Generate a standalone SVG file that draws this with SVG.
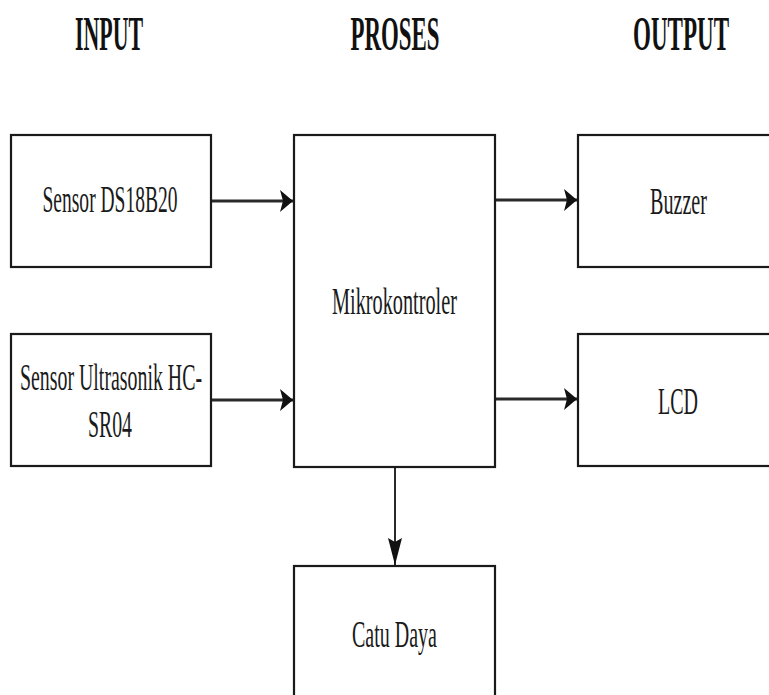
<svg xmlns="http://www.w3.org/2000/svg" width="769" height="695" viewBox="0 0 769 695">
<style>
.box{fill:#fff;stroke:#1a1a1a;stroke-width:2.2}
.t{font-family:"Liberation Serif","Times New Roman",serif;font-size:37px;fill:#1a1a1a;text-anchor:middle}
.h{font-family:"Liberation Serif","Times New Roman",serif;font-size:48px;font-weight:bold;fill:#111;text-anchor:middle}
.ln{stroke:#2a2a2a;stroke-width:3;fill:none}
.lnv{stroke:#2a2a2a;stroke-width:2;fill:none}
</style>
<defs>
<marker id="ah" markerUnits="userSpaceOnUse" markerWidth="14" markerHeight="24" refX="13" refY="12" orient="auto">
<path d="M0,1 L13,12 L0,23 L3,12 Z" fill="#111"/>
</marker>
<marker id="av" markerUnits="userSpaceOnUse" markerWidth="16" markerHeight="28" refX="8" refY="27" orient="0">
<path d="M1,0 L8,27 L15,0 L8,4 Z" fill="#111"/>
</marker>
</defs>
<rect width="769" height="695" fill="#fff"/>
<g id="headings">
<text class="h" transform="translate(109,50) scale(0.5,1)" x="0" y="0" textLength="136" lengthAdjust="spacingAndGlyphs">INPUT</text>
<text class="h" transform="translate(395,50) scale(0.5,1)" x="0" y="0" textLength="178" lengthAdjust="spacingAndGlyphs">PROSES</text>
<text class="h" transform="translate(681,50) scale(0.5,1)" x="0" y="0" textLength="192" lengthAdjust="spacingAndGlyphs">OUTPUT</text>
</g>
<g id="connectors">
<line class="ln" x1="212" y1="201" x2="293" y2="201" marker-end="url(#ah)"/>
<line class="ln" x1="212" y1="400" x2="293" y2="400" marker-end="url(#ah)"/>
<line class="ln" x1="496" y1="200" x2="577" y2="200" marker-end="url(#ah)"/>
<line class="ln" x1="496" y1="399" x2="577" y2="399" marker-end="url(#ah)"/>
<line class="lnv" x1="395" y1="467" x2="395" y2="565" marker-end="url(#av)"/>
</g>
<g id="sensor-ds18b20">
<rect class="box" x="11" y="135" width="200" height="132"/>
<text class="t" x="110" y="212" textLength="135" lengthAdjust="spacingAndGlyphs">Sensor DS18B20</text>
</g>
<g id="sensor-ultrasonik">
<rect class="box" x="11" y="334" width="200" height="132"/>
<text class="t" x="111" y="390" textLength="182" lengthAdjust="spacingAndGlyphs">Sensor Ultrasonik HC-</text>
<text class="t" x="110" y="437" textLength="44" lengthAdjust="spacingAndGlyphs">SR04</text>
</g>
<g id="mikrokontroler">
<rect class="box" x="294" y="135" width="201" height="332"/>
<text class="t" x="394.5" y="314" textLength="125" lengthAdjust="spacingAndGlyphs">Mikrokontroler</text>
</g>
<g id="buzzer">
<rect class="box" x="578" y="135" width="200" height="132"/>
<text class="t" x="678.5" y="214" textLength="57" lengthAdjust="spacingAndGlyphs">Buzzer</text>
</g>
<g id="lcd">
<rect class="box" x="578" y="334" width="200" height="132"/>
<text class="t" x="678" y="414" textLength="40" lengthAdjust="spacingAndGlyphs">LCD</text>
</g>
<g id="catu-daya">
<rect class="box" x="294" y="566" width="201" height="140"/>
<text class="t" x="394.5" y="647" textLength="85" lengthAdjust="spacingAndGlyphs">Catu Daya</text>
</g>
</svg>
